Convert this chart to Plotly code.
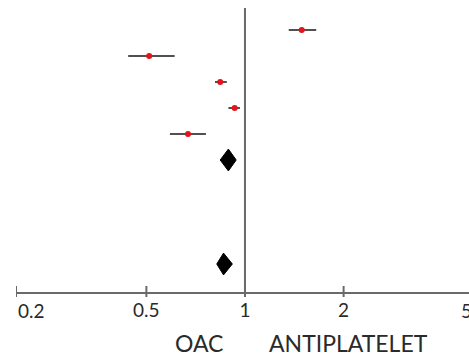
import math
import plotly.graph_objects as go

# Individual studies: point estimate with 95% CI (ratio scale)
study_rows = [0, 1, 2, 3, 4]
study_est = [1.49, 0.51, 0.84, 0.93, 0.67]
study_lo = [1.36, 0.44, 0.81, 0.89, 0.59]
study_hi = [1.65, 0.61, 0.88, 0.965, 0.76]

# Pooled estimates drawn as diamonds
pooled_rows = [5, 9]
pooled_est = [0.89, 0.86]
pooled_lo = [0.84, 0.82]
pooled_hi = [0.94, 0.915]

tick_vals = [0.2, 0.5, 1, 2, 5]
tick_text = ["0.2", "0.5", "1", "2", "5"]

AXIS_GRAY = "#6a6a6a"
TEXT = "#2a2a2a"
FONT = "Lato"

W, H = 469, 356
MARGIN_L = 16
plot_h = 292
plot_w = W - MARGIN_L

x_range = [math.log10(0.2), 0.6838]
y_range = [10.077, -1.154]

fig = go.Figure()

fig.add_trace(go.Scatter(
    x=study_est, y=study_rows, mode="markers",
    marker=dict(color="#e3141b", size=6, line=dict(width=0)),
    error_x=dict(
        type="data", symmetric=False,
        array=[h - e for h, e in zip(study_hi, study_est)],
        arrayminus=[e - l for e, l in zip(study_est, study_lo)],
        color="#505050", thickness=2, width=0,
    ),
    showlegend=False, hoverinfo="skip",
))

half_h = 0.42
for r, e, lo, hi in zip(pooled_rows, pooled_est, pooled_lo, pooled_hi):
    fig.add_trace(go.Scatter(
        x=[lo, e, hi, e, lo], y=[r, r - half_h, r, r + half_h, r],
        mode="lines", fill="toself", fillcolor="black",
        line=dict(color="black", width=1),
        showlegend=False, hoverinfo="skip",
    ))

# line of no effect
fig.add_shape(type="line", xref="x", yref="y", x0=1, x1=1, y0=-0.85, y1=y_range[0],
              line=dict(color=AXIS_GRAY, width=2))

# crossing tick marks on the x axis
for v in tick_vals[:-1]:
    fig.add_shape(type="line", xref="x", yref="paper", x0=v, x1=v,
                  y0=-5 / plot_h, y1=6 / plot_h,
                  line=dict(color=AXIS_GRAY, width=2))

# edge tick labels are aligned inward
fig.add_annotation(x=math.log10(tick_vals[0]), xref="x", y=-5 / plot_h, yref="paper",
                   text=tick_text[0], showarrow=False, xanchor="left", yanchor="top",
                   font=dict(size=19, color=TEXT, family=FONT))
frac5 = (math.log10(tick_vals[-1]) - x_range[0]) / (x_range[1] - x_range[0])
fig.add_annotation(x=frac5, xref="paper", y=-5 / plot_h, yref="paper",
                   text=tick_text[-1], showarrow=False, xanchor="right", yanchor="top",
                   font=dict(size=19, color=TEXT, family=FONT))

# direction labels
fig.add_annotation(x=(199 - MARGIN_L) / plot_w, xref="paper", y=-51 / plot_h, yref="paper",
                   text="OAC", showarrow=False, xanchor="center", yanchor="middle",
                   font=dict(size=23, color=TEXT, family=FONT))
fig.add_annotation(x=(348 - MARGIN_L) / plot_w, xref="paper", y=-51 / plot_h, yref="paper",
                   text="ANTIPLATELET", showarrow=False, xanchor="center", yanchor="middle",
                   font=dict(size=23, color=TEXT, family=FONT))

fig.update_xaxes(
    type="log", range=x_range, showgrid=False, zeroline=False,
    showline=True, linecolor=AXIS_GRAY, linewidth=2,
    tickmode="array", tickvals=tick_vals[1:-1], ticktext=tick_text[1:-1],
    ticks="", ticklabelstandoff=0,
    tickfont=dict(size=19, color=TEXT, family=FONT),
)
fig.update_yaxes(range=y_range, showgrid=False, zeroline=False,
                 showline=False, showticklabels=False)

fig.update_layout(
    width=W, height=H,
    margin=dict(l=MARGIN_L, r=0, t=0, b=H - plot_h),
    plot_bgcolor="white", paper_bgcolor="white",
)

fig.write_html("out.html")
